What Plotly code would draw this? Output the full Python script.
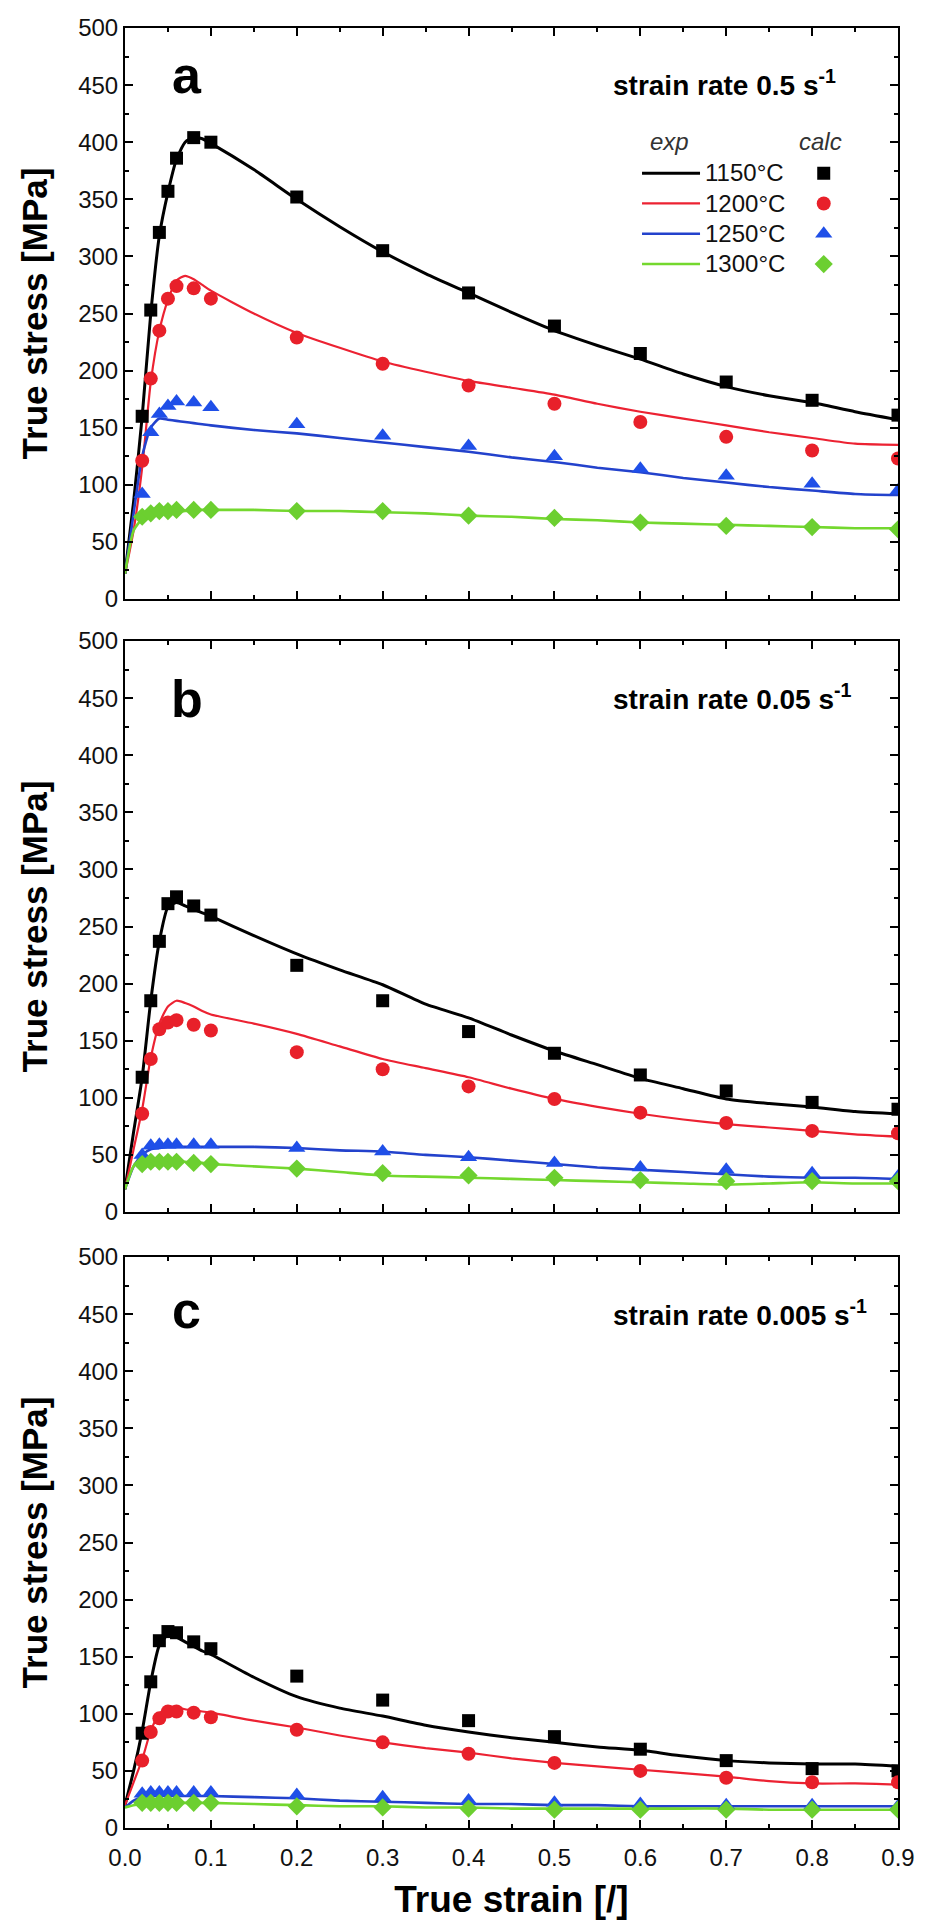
import plotly.graph_objects as go

# ---- data -------------------------------------------------------------
temps = ["1150°C", "1200°C", "1250°C", "1300°C"]
panel_letters = ["a", "b", "c"]
rate_labels = ["strain rate 0.5 s<sup>-1</sup>",
               "strain rate 0.05 s<sup>-1</sup>",
               "strain rate 0.005 s<sup>-1</sup>"]

# strain values of the measured (exp) flow curves
strain_exp = [0, 0.01, 0.02, 0.03, 0.04, 0.05, 0.06, 0.07, 0.08, 0.09, 0.1,
              0.15, 0.2, 0.25, 0.3, 0.35, 0.4, 0.45, 0.5, 0.55, 0.6, 0.65,
              0.7, 0.75, 0.8, 0.85, 0.9]
# strain values of the calculated points
strain_calc = [0.02, 0.03, 0.04, 0.05, 0.06, 0.08, 0.1,
               0.2, 0.3, 0.4, 0.5, 0.6, 0.7, 0.8, 0.9]

# strain rate 0.5 1/s
exp_a_1150 = [22, 85, 160, 250, 318, 356, 385, 400, 404, 403, 399, 376, 350, 326, 304, 285, 268, 251, 235, 222, 210, 197, 186, 178, 172, 164, 157]
exp_a_1200 = [22, 60, 115, 190, 235, 262, 279, 283, 280, 275, 270, 250, 233, 220, 208, 199, 191, 185, 179, 171, 164, 158, 152, 146, 141, 136, 135]
exp_a_1250 = [22, 75, 125, 150, 158, 157, 156, 155, 154, 153, 152, 148, 145, 141, 137, 133, 129, 124, 120, 115, 111, 106, 102, 98, 95, 92, 91]
exp_a_1300 = [22, 60, 70, 73, 75, 76, 77, 77, 78, 78, 78, 78, 77, 77, 76, 75, 73, 72, 70, 69, 67, 66, 65, 64, 63, 62, 62]
calc_a_1150 = [160, 253, 321, 357, 386, 404, 400, 352, 305, 268, 239, 215, 190, 174, 161]
calc_a_1200 = [121, 193, 235, 263, 274, 272, 263, 229, 206, 187, 171, 155, 142, 130, 123]
calc_a_1250 = [92, 146, 162, 169, 173, 172, 168, 153, 143, 134, 125, 114, 108, 101, 95]
calc_a_1300 = [72, 75, 77, 77, 78, 78, 78, 77, 77, 73, 71, 67, 64, 63, 61]

# strain rate 0.05 1/s
exp_b_1150 = [20, 70, 118, 185, 237, 267, 271, 268, 265, 262, 259, 242, 226, 212, 199, 182, 170, 155, 141, 129, 117, 108, 99, 95, 92, 88, 86]
exp_b_1200 = [20, 55, 90, 135, 165, 180, 185, 183, 180, 176, 173, 165, 156, 145, 134, 126, 118, 108, 99, 92, 86, 81, 77, 74, 71, 68, 66]
exp_b_1250 = [20, 40, 50, 55, 56, 57, 57, 57, 57, 57, 57, 57, 56, 54, 53, 50, 48, 45, 42, 39, 37, 35, 33, 31, 30, 30, 29]
exp_b_1300 = [20, 40, 47, 46, 45, 45, 44, 44, 43, 43, 42, 40, 38, 35, 32, 31, 30, 29, 28, 27, 26, 25, 24, 25, 26, 25, 25]
calc_b_1150 = [118, 185, 237, 270, 276, 268, 260, 216, 185, 158, 139, 120, 106, 96, 90]
calc_b_1200 = [86, 134, 160, 166, 168, 164, 159, 140, 125, 110, 99, 87, 78, 71, 69]
calc_b_1250 = [50, 58, 59, 59, 59, 59, 59, 56, 53, 48, 43, 39, 37, 34, 31]
calc_b_1300 = [42, 44, 44, 44, 44, 43, 42, 38, 34, 32, 30, 28, 27, 27, 27]

# strain rate 0.005 1/s
exp_c_1150 = [20, 50, 85, 128, 160, 169, 167, 163, 159, 155, 152, 132, 115, 105, 98, 90, 84, 79, 75, 71, 68, 63, 59, 57, 56, 56, 54]
exp_c_1200 = [20, 40, 60, 85, 100, 106, 106, 104, 103, 102, 101, 94, 88, 81, 75, 70, 66, 61, 57, 54, 51, 48, 45, 41, 39, 39, 38]
exp_c_1250 = [18, 24, 27, 28, 28, 28, 28, 28, 28, 28, 28, 27, 26, 24, 23, 22, 21, 21, 20, 20, 19, 19, 19, 19, 19, 19, 19]
exp_c_1300 = [18, 20, 21, 21, 21, 22, 22, 22, 22, 22, 22, 21, 20, 19, 19, 18, 18, 17, 17, 17, 17, 17, 17, 16, 16, 16, 16]
calc_c_1150 = [83, 128, 164, 172, 171, 163, 157, 133, 112, 94, 80, 69, 59, 52, 50]
calc_c_1200 = [59, 84, 96, 102, 102, 101, 97, 86, 75, 65, 57, 50, 44, 40, 40]
calc_c_1250 = [30, 31, 31, 31, 31, 31, 31, 29, 27, 24, 22, 21, 20, 20, 19]
calc_c_1300 = [22, 22, 22, 22, 22, 22, 22, 19, 18, 17, 16, 16, 16, 16, 16]

exp_curves = [[exp_a_1150, exp_a_1200, exp_a_1250, exp_a_1300],
              [exp_b_1150, exp_b_1200, exp_b_1250, exp_b_1300],
              [exp_c_1150, exp_c_1200, exp_c_1250, exp_c_1300]]
calc_points = [[calc_a_1150, calc_a_1200, calc_a_1250, calc_a_1300],
               [calc_b_1150, calc_b_1200, calc_b_1250, calc_b_1300],
               [calc_c_1150, calc_c_1200, calc_c_1250, calc_c_1300]]

# ---- styles -----------------------------------------------------------
line_colors = ["#000000", "#ec2232", "#2342cc", "#74d82e"]
line_widths = [3, 2.2, 2.6, 2.6]
marker_colors = ["#000000", "#e8202a", "#1f4fe8", "#6ccf30"]
marker_symbols = ["square", "circle", "triangle-up", "diamond"]
marker_sizes = [13, 14, 15, 14]

FONT = "Liberation Sans, Arial, sans-serif"
W, H = 927, 1925
M_L, M_R, M_T, M_B = 125, 23, 28, 97
domains = [[0.68278, 1.0], [0.34222, 0.65944], [0.0, 0.31722]]
letter_y = [0.918, 0.898, 0.908]

fig = go.Figure()

for p in range(3):
    xa = "x" if p == 0 else f"x{p + 1}"
    ya = "y" if p == 0 else f"y{p + 1}"
    for k in range(4):
        fig.add_trace(go.Scatter(
            x=strain_exp, y=exp_curves[p][k], xaxis=xa, yaxis=ya,
            mode="lines", name=f'<span style="font-size:24px">{temps[k]}</span>',
            line=dict(color=line_colors[k], width=line_widths[k], shape="spline", smoothing=0.6),
            showlegend=(p == 0), legend="legend"))
    for k in range(4):
        fig.add_trace(go.Scatter(
            x=strain_calc, y=calc_points[p][k], xaxis=xa, yaxis=ya,
            mode="markers", name="",
            marker=dict(color=marker_colors[k], symbol=marker_symbols[k],
                        size=marker_sizes[k], line=dict(width=0)),
            showlegend=(p == 0), legend="legend2"))

axis_common = dict(
    showline=True, linewidth=2, linecolor="#000", mirror="allticks",
    ticks="inside", ticklen=8, tickwidth=2, tickcolor="#000",
    showgrid=False, zeroline=False,
    tickfont=dict(family=FONT, size=24, color="#111"),
)

layout = dict(
    width=W, height=H,
    margin=dict(l=M_L, r=M_R, t=M_T, b=M_B),
    paper_bgcolor="white", plot_bgcolor="white",
    font=dict(family=FONT, color="#000"),
    annotations=[],
)

for p in range(3):
    xkey = "xaxis" if p == 0 else f"xaxis{p + 1}"
    ykey = "yaxis" if p == 0 else f"yaxis{p + 1}"
    xa_id = "x" if p == 0 else f"x{p + 1}"
    ya_id = "y" if p == 0 else f"y{p + 1}"
    xax = dict(axis_common, domain=[0, 1], range=[0, 0.9], anchor=ya_id,
               dtick=0.1, tick0=0, tickformat=".1f",
               minor=dict(dtick=0.05, ticklen=4, tickwidth=2, tickcolor="#000", ticks="inside"),
               showticklabels=(p == 2))
    if p == 2:
        xax["ticklabelstandoff"] = 7
        xax["title"] = dict(text="True strain [/]", standoff=16,
                            font=dict(family=FONT, size=37, weight="bold"))
    yax = dict(axis_common, domain=domains[p], range=[0, 500], anchor=xa_id,
               dtick=50, tick0=0,
               minor=dict(dtick=25, ticklen=4, tickwidth=2, tickcolor="#000", ticks="inside"),
               title=dict(text="True stress [MPa]", standoff=20,
                          font=dict(family=FONT, size=35, weight="bold")))
    layout[xkey] = xax
    layout[ykey] = yax

    layout["annotations"].append(dict(
        text=panel_letters[p], xref=f"{xa_id} domain", yref=f"{ya_id} domain",
        x=0.0796, y=letter_y[p], xanchor="center", yanchor="middle", showarrow=False,
        font=dict(family=FONT, size=52, weight="bold", color="#000")))
    layout["annotations"].append(dict(
        text=rate_labels[p], xref=f"{xa_id} domain", yref=f"{ya_id} domain",
        x=0.629, y=1 - 55.5 / 571, xanchor="left", yanchor="middle", showarrow=False,
        font=dict(family=FONT, size=28, weight="bold", color="#000")))

# legend column headers
layout["annotations"].append(dict(
    text="<i>exp</i>", xref="paper", yref="paper", x=(674 - M_L) / 779, y=(1828 - 141) / 1800,
    xanchor="center", yanchor="middle", showarrow=False,
    font=dict(family=FONT, size=24, color="#333")))
layout["annotations"].append(dict(
    text="<i>calc</i>", xref="paper", yref="paper", x=(826 - M_L) / 779, y=(1828 - 141) / 1800,
    xanchor="center", yanchor="middle", showarrow=False,
    font=dict(family=FONT, size=24, color="#333")))

layout["legend"] = dict(
    x=(641 - M_L) / 779, y=(1828 - 153) / 1800, xanchor="left", yanchor="top",
    bgcolor="rgba(0,0,0,0)", borderwidth=0, itemwidth=58, tracegroupgap=0,
    font=dict(family=FONT, size=21, color="#111"))
layout["legend2"] = dict(
    x=(809 - M_L) / 779, y=(1828 - 153) / 1800, xanchor="left", yanchor="top",
    bgcolor="rgba(0,0,0,0)", borderwidth=0, itemwidth=30, tracegroupgap=0,
    font=dict(family=FONT, size=21, color="#111"))

fig.update_layout(**layout)
fig.write_html("out.html")
